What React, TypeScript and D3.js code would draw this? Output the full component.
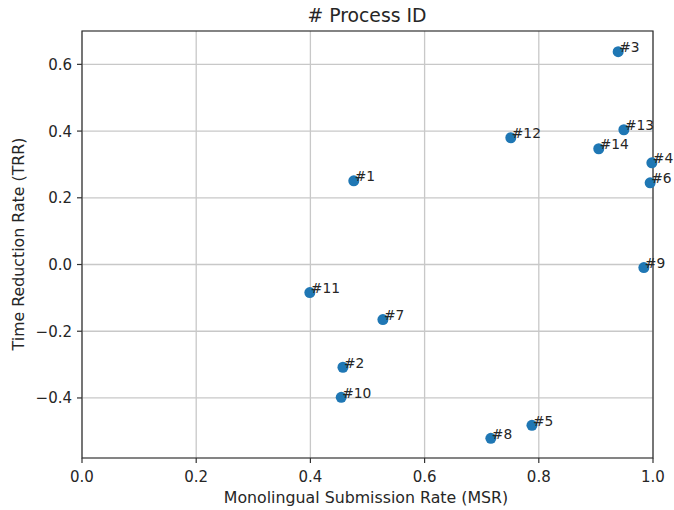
import React from "react";
import * as d3 from "d3";

const ids = ["#1", "#2", "#3", "#4", "#5", "#6", "#7", "#8", "#9", "#10", "#11", "#12", "#13", "#14"];
const msr = [0.476, 0.457, 0.939, 0.998, 0.788, 0.995, 0.527, 0.716, 0.984, 0.454, 0.399, 0.751, 0.949, 0.905];
const trr = [0.251, -0.308, 0.638, 0.305, -0.482, 0.245, -0.165, -0.521, -0.009, -0.398, -0.084, 0.38, 0.404, 0.347];
const xTicks = [0, 0.2, 0.4, 0.6, 0.8, 1.0];
const yTicks = [-0.4, -0.2, 0, 0.2, 0.4, 0.6];

export default function App() {
  const W = 674, H = 510;
  const left = 82, right = 653, top = 31, bottom = 458;
  const x = d3.scaleLinear().domain([0, 1]).range([left, right]);
  const y = d3.scaleLinear().domain([-0.58, 0.70]).range([bottom, top]);
  const font = "DejaVu Sans";
  const fmt = d3.format(".1f");
  const yfmt = (v: number) => (v < 0 ? "\u2212" + fmt(-v) : fmt(v));
  const ink = "#262626";
  return (
    <svg width={W} height={H} style={{ position: "absolute", left: 0, top: 0, background: "#fff" }} fontFamily={font}>
      <rect x={0} y={0} width={W} height={H} fill="#fff" />
      {xTicks.map((t) => (
        <line key={"gx" + t} x1={x(t)} x2={x(t)} y1={top} y2={bottom} stroke="#c8c8c8" strokeWidth={1.3} />
      ))}
      {yTicks.map((t) => (
        <line key={"gy" + t} x1={left} x2={right} y1={y(t)} y2={y(t)} stroke="#c8c8c8" strokeWidth={1.3} />
      ))}
      <rect x={left} y={top} width={right - left} height={bottom - top} fill="none" stroke="#333" strokeWidth={1.2} />
      {xTicks.map((t) => (
        <g key={"tx" + t}>
          <line x1={x(t)} x2={x(t)} y1={bottom} y2={bottom + 5} stroke="#333" strokeWidth={1.2} />
          <text x={x(t)} y={482} textAnchor="middle" fontSize={15} fill={ink}>{fmt(t)}</text>
        </g>
      ))}
      {yTicks.map((t) => (
        <g key={"ty" + t}>
          <line x1={left - 5} x2={left} y1={y(t)} y2={y(t)} stroke="#333" strokeWidth={1.2} />
          <text x={left - 10} y={y(t) + 5.5} textAnchor="end" fontSize={15} fill={ink}>{yfmt(t)}</text>
        </g>
      ))}
      {ids.map((id, i) => (
        <g key={id}>
          <circle cx={x(msr[i])} cy={y(trr[i])} r={5.5} fill="#1f77b4" />
          <text x={x(msr[i]) + 1} y={y(trr[i]) + 0.5} fontSize={13.8} fill={ink}>{id}</text>
        </g>
      ))}
      <text x={367} y={22} textAnchor="middle" fontSize={18.8} fill={ink}>
        # Process ID
      </text>
      <text x={366} y={503} textAnchor="middle" fontSize={15.8} fill={ink}>
        Monolingual Submission Rate (MSR)
      </text>
      <text transform={`translate(24,${244}) rotate(-90)`} textAnchor="middle" fontSize={15.8} fill={ink}>
        Time Reduction Rate (TRR)
      </text>
    </svg>
  );
}
